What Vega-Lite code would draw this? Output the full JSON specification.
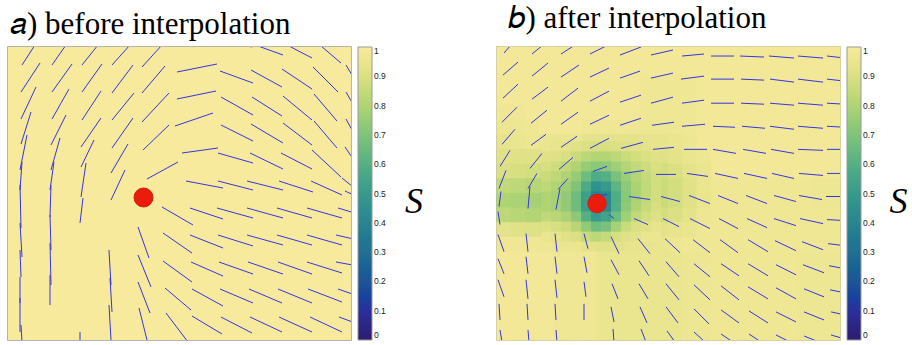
{
"$schema": "https://vega.github.io/schema/vega-lite/v6.json",
"padding": {"left": 7, "top": 2, "right": 0, "bottom": 0},
"config": {
  "view": {"stroke": "#9a9a9a", "strokeWidth": 1.5},
  "title": {"font": "Liberation Serif", "fontSize": 31, "fontWeight": "normal", "color": "#000", "anchor": "start"},
  "legend": {"gradientLength": 293, "gradientThickness": 14, "offset": 7, "labelFont": "Liberation Sans", "labelFontSize": 8.5, "labelColor": "#222", "labelOffset": 4, "labelOverlap": false, "gradientStrokeColor": "#999", "gradientStrokeWidth": 1}
},
"datasets": {
  "gridA": [{"i":0,"j":0,"s":1}],
  "labelS": [{"t":"S","x":0.07,"y":0.53}],
  "defA": [{"x":13.55,"y":15.05}],
  "defB": [{"x":10.0,"y":15.6}],
  "fieldA": [
{"x1":1.4,"y1":1.8,"x2":2.7,"y2":-0.2},{"x1":1.3,"y1":4.5,"x2":3.2,"y2":1.6},{"x1":1.3,"y1":7.2,"x2":2.8,"y2":4.0},{"x1":1.3,"y1":9.7,"x2":2.3,"y2":6.5},{"x1":1.2,"y1":12.3,"x2":1.9,"y2":8.8},{"x1":1.2,"y1":14.3,"x2":1.4,"y2":11.5},{"x1":1.2,"y1":13.8,"x2":1.3,"y2":18.1},{"x1":1.2,"y1":17.6,"x2":1.4,"y2":21.0},{"x1":1.2,"y1":20.3,"x2":1.3,"y2":23.0},{"x1":1.2,"y1":23.0,"x2":1.2,"y2":25.6},{"x1":1.2,"y1":25.1,"x2":1.2,"y2":28.5},{"x1":1.3,"y1":27.8,"x2":1.4,"y2":29.5},
{"x1":4.4,"y1":1.8,"x2":5.8,"y2":-0.2},{"x1":4.4,"y1":4.5,"x2":6.4,"y2":1.7},{"x1":4.4,"y1":7.2,"x2":6.1,"y2":4.2},{"x1":4.3,"y1":9.8,"x2":5.8,"y2":6.8},{"x1":4.3,"y1":12.3,"x2":5.2,"y2":9.1},{"x1":4.2,"y1":14.3,"x2":4.6,"y2":11.5},{"x1":4.3,"y1":13.8,"x2":4.2,"y2":17.0},{"x1":4.2,"y1":16.8,"x2":4.3,"y2":20.3},{"x1":4.2,"y1":19.6,"x2":4.3,"y2":23.8},{"x1":4.2,"y1":22.8,"x2":4.2,"y2":25.8},
{"x1":7.4,"y1":1.8,"x2":9.0,"y2":-0.2},{"x1":7.4,"y1":4.5,"x2":9.4,"y2":1.7},{"x1":7.4,"y1":7.3,"x2":9.3,"y2":4.4},{"x1":7.3,"y1":10.0,"x2":9.3,"y2":7.1},{"x1":7.3,"y1":12.0,"x2":8.6,"y2":9.3},{"x1":7.3,"y1":15.0,"x2":7.8,"y2":11.6},{"x1":7.2,"y1":17.6,"x2":7.5,"y2":15.1},{"x1":7.2,"y1":28.5,"x2":7.2,"y2":29.5},
{"x1":10.4,"y1":1.8,"x2":12.2,"y2":-0.2},{"x1":10.4,"y1":4.6,"x2":12.5,"y2":1.8},{"x1":10.4,"y1":7.3,"x2":12.6,"y2":4.6},{"x1":10.4,"y1":10.1,"x2":12.5,"y2":7.1},{"x1":10.3,"y1":12.6,"x2":12.0,"y2":9.7},{"x1":10.3,"y1":15.3,"x2":11.7,"y2":12.3},{"x1":10.1,"y1":20.3,"x2":10.3,"y2":23.8},{"x1":10.2,"y1":23.1,"x2":10.4,"y2":26.5},{"x1":10.1,"y1":25.8,"x2":10.3,"y2":29.3},
{"x1":13.4,"y1":2.0,"x2":15.4,"y2":-0.2},{"x1":13.4,"y1":4.6,"x2":15.7,"y2":1.9},{"x1":13.4,"y1":7.5,"x2":16.1,"y2":4.6},{"x1":13.5,"y1":10.3,"x2":16.1,"y2":7.8},{"x1":13.9,"y1":13.2,"x2":17.0,"y2":11.5},{"x1":13.0,"y1":18.0,"x2":14.1,"y2":21.1},{"x1":13.0,"y1":20.8,"x2":14.3,"y2":24.0},{"x1":13.0,"y1":23.5,"x2":14.2,"y2":26.6},{"x1":13.1,"y1":26.1,"x2":13.9,"y2":29.3},
{"x1":23.2,"y1":-0.3,"x2":24.4,"y2":0.0},{"x1":25.0,"y1":-0.1,"x2":27.5,"y2":0.8},{"x1":28.1,"y1":-0.1,"x2":30.4,"y2":1.1},{"x1":31.3,"y1":-0.1,"x2":33.3,"y2":1.6},{"x1":33.8,"y1":1.8,"x2":35.0,"y2":3.8},
{"x1":16.9,"y1":2.5,"x2":20.9,"y2":1.7},{"x1":21.2,"y1":2.4,"x2":24.5,"y2":3.6},{"x1":24.3,"y1":2.3,"x2":27.4,"y2":4.0},{"x1":27.4,"y1":2.2,"x2":30.4,"y2":4.2},{"x1":30.5,"y1":2.0,"x2":33.0,"y2":4.5},{"x1":33.8,"y1":4.5,"x2":35.0,"y2":6.6},
{"x1":16.9,"y1":5.2,"x2":20.8,"y2":4.4},{"x1":21.3,"y1":5.0,"x2":24.5,"y2":6.8},{"x1":24.4,"y1":5.0,"x2":27.4,"y2":6.9},{"x1":27.5,"y1":4.9,"x2":30.4,"y2":7.3},{"x1":30.6,"y1":4.7,"x2":32.9,"y2":7.4},{"x1":33.8,"y1":7.2,"x2":35.0,"y2":9.4},
{"x1":16.7,"y1":7.9,"x2":20.5,"y2":6.6},{"x1":21.3,"y1":7.8,"x2":24.5,"y2":9.4},{"x1":24.3,"y1":7.7,"x2":27.5,"y2":9.6},{"x1":27.5,"y1":7.6,"x2":30.4,"y2":9.8},{"x1":30.6,"y1":7.4,"x2":32.9,"y2":10.1},{"x1":33.7,"y1":10.0,"x2":35.0,"y2":11.9},
{"x1":17.4,"y1":10.6,"x2":21.0,"y2":10.1},{"x1":21.0,"y1":10.6,"x2":24.5,"y2":11.6},{"x1":24.2,"y1":10.6,"x2":27.5,"y2":12.2},{"x1":27.3,"y1":10.6,"x2":30.4,"y2":12.2},{"x1":30.4,"y1":10.3,"x2":33.3,"y2":13.0},{"x1":33.4,"y1":13.1,"x2":35.0,"y2":14.4},
{"x1":17.8,"y1":13.4,"x2":21.5,"y2":14.1},{"x1":21.0,"y1":13.4,"x2":24.5,"y2":14.3},{"x1":23.9,"y1":13.4,"x2":27.5,"y2":14.3},{"x1":27.1,"y1":13.4,"x2":30.5,"y2":14.5},{"x1":30.3,"y1":13.4,"x2":33.4,"y2":14.8},{"x1":33.7,"y1":14.4,"x2":35.0,"y2":15.0},
{"x1":15.4,"y1":16.0,"x2":18.5,"y2":17.8},{"x1":18.2,"y1":16.1,"x2":21.5,"y2":17.2},{"x1":20.9,"y1":16.1,"x2":24.5,"y2":17.1},{"x1":23.9,"y1":16.1,"x2":27.5,"y2":17.1},{"x1":26.9,"y1":16.1,"x2":30.4,"y2":17.1},{"x1":29.9,"y1":16.1,"x2":33.4,"y2":17.1},{"x1":33.0,"y1":16.1,"x2":35.0,"y2":16.7},
{"x1":15.5,"y1":18.6,"x2":18.4,"y2":20.6},{"x1":18.2,"y1":18.8,"x2":21.5,"y2":20.1},{"x1":21.0,"y1":18.8,"x2":24.5,"y2":19.9},{"x1":23.9,"y1":18.8,"x2":27.5,"y2":19.8},{"x1":26.9,"y1":18.8,"x2":30.4,"y2":19.8},{"x1":29.9,"y1":18.8,"x2":33.4,"y2":19.8},{"x1":32.8,"y1":18.8,"x2":35.0,"y2":19.3},
{"x1":15.5,"y1":21.4,"x2":18.4,"y2":23.5},{"x1":18.3,"y1":21.5,"x2":21.5,"y2":22.9},{"x1":21.1,"y1":21.5,"x2":24.5,"y2":22.7},{"x1":24.0,"y1":21.5,"x2":27.5,"y2":22.7},{"x1":27.0,"y1":21.5,"x2":30.4,"y2":22.7},{"x1":29.9,"y1":21.5,"x2":33.4,"y2":22.6},{"x1":32.8,"y1":21.5,"x2":35.0,"y2":21.9},
{"x1":15.7,"y1":24.1,"x2":18.3,"y2":26.3},{"x1":18.4,"y1":24.2,"x2":21.5,"y2":25.9},{"x1":21.2,"y1":24.2,"x2":24.5,"y2":25.6},{"x1":24.1,"y1":24.2,"x2":27.4,"y2":25.6},{"x1":27.0,"y1":24.2,"x2":30.4,"y2":25.6},{"x1":30.0,"y1":24.2,"x2":33.4,"y2":25.5},{"x1":33.0,"y1":24.2,"x2":35.0,"y2":24.9},
{"x1":15.8,"y1":26.6,"x2":18.0,"y2":29.5},{"x1":18.4,"y1":26.9,"x2":21.4,"y2":28.7},{"x1":21.3,"y1":27.0,"x2":24.4,"y2":28.6},{"x1":24.2,"y1":27.0,"x2":27.4,"y2":28.5},{"x1":27.1,"y1":27.0,"x2":30.4,"y2":28.5},{"x1":30.2,"y1":27.0,"x2":33.4,"y2":28.5},{"x1":33.1,"y1":27.0,"x2":35.0,"y2":27.7}
  ],
  "fieldB": [
{"x1":0.7,"y1":0.6,"x2":1.4,"y2":-0.2},{"x1":3.5,"y1":0.7,"x2":4.6,"y2":-0.2},{"x1":6.4,"y1":0.7,"x2":7.8,"y2":-0.2},{"x1":9.3,"y1":0.7,"x2":11.1,"y2":-0.2},{"x1":12.3,"y1":0.8,"x2":14.4,"y2":0.0},{"x1":15.4,"y1":0.8,"x2":17.6,"y2":0.3},{"x1":18.5,"y1":0.9,"x2":20.7,"y2":0.7},{"x1":21.4,"y1":0.9,"x2":23.7,"y2":0.9},{"x1":24.3,"y1":0.9,"x2":26.7,"y2":1.0},{"x1":27.2,"y1":0.9,"x2":29.7,"y2":1.1},{"x1":30.1,"y1":0.9,"x2":32.6,"y2":1.1},{"x1":33.0,"y1":0.9,"x2":34.8,"y2":1.1},
{"x1":0.6,"y1":2.8,"x2":2.1,"y2":1.5},{"x1":3.5,"y1":2.9,"x2":5.1,"y2":1.6},{"x1":6.4,"y1":3.0,"x2":8.2,"y2":1.8},{"x1":9.3,"y1":3.0,"x2":11.2,"y2":2.1},{"x1":12.3,"y1":3.1,"x2":14.3,"y2":2.4},{"x1":15.4,"y1":3.1,"x2":17.6,"y2":2.6},{"x1":18.4,"y1":3.2,"x2":20.7,"y2":2.9},{"x1":21.4,"y1":3.2,"x2":23.7,"y2":3.2},{"x1":24.4,"y1":3.2,"x2":26.7,"y2":3.3},{"x1":27.3,"y1":3.2,"x2":29.7,"y2":3.5},{"x1":30.1,"y1":3.2,"x2":32.6,"y2":3.5},{"x1":33.0,"y1":3.2,"x2":34.8,"y2":3.4},
{"x1":0.6,"y1":5.1,"x2":2.1,"y2":3.7},{"x1":3.5,"y1":5.2,"x2":5.1,"y2":4.0},{"x1":6.4,"y1":5.4,"x2":8.1,"y2":4.1},{"x1":9.3,"y1":5.4,"x2":11.2,"y2":4.4},{"x1":12.3,"y1":5.5,"x2":14.4,"y2":4.8},{"x1":15.4,"y1":5.6,"x2":17.6,"y2":5.0},{"x1":18.5,"y1":5.6,"x2":20.7,"y2":5.3},{"x1":21.4,"y1":5.6,"x2":23.7,"y2":5.6},{"x1":24.4,"y1":5.6,"x2":26.7,"y2":5.7},{"x1":27.3,"y1":5.6,"x2":29.7,"y2":5.8},{"x1":30.1,"y1":5.6,"x2":32.6,"y2":5.8},{"x1":33.0,"y1":5.6,"x2":34.8,"y2":5.7},
{"x1":0.5,"y1":7.5,"x2":2.0,"y2":6.0},{"x1":3.4,"y1":7.6,"x2":5.0,"y2":6.3},{"x1":6.4,"y1":7.7,"x2":8.1,"y2":6.5},{"x1":9.3,"y1":7.7,"x2":11.2,"y2":6.8},{"x1":12.3,"y1":7.8,"x2":14.4,"y2":7.1},{"x1":15.5,"y1":7.8,"x2":17.7,"y2":7.5},{"x1":18.5,"y1":7.9,"x2":20.8,"y2":7.7},{"x1":21.6,"y1":7.9,"x2":23.8,"y2":8.0},{"x1":24.5,"y1":7.9,"x2":26.8,"y2":8.1},{"x1":27.3,"y1":7.9,"x2":29.7,"y2":8.2},{"x1":30.1,"y1":7.9,"x2":32.6,"y2":8.1},{"x1":33.0,"y1":7.9,"x2":34.8,"y2":8.0},
{"x1":0.5,"y1":9.7,"x2":1.8,"y2":8.2},{"x1":3.4,"y1":9.8,"x2":4.9,"y2":8.7},{"x1":6.4,"y1":10.0,"x2":8.0,"y2":8.9},{"x1":9.3,"y1":10.1,"x2":11.2,"y2":9.1},{"x1":12.4,"y1":10.1,"x2":14.6,"y2":9.5},{"x1":15.6,"y1":10.2,"x2":17.7,"y2":10.0},{"x1":18.7,"y1":10.2,"x2":21.0,"y2":10.2},{"x1":21.6,"y1":10.2,"x2":23.9,"y2":10.6},{"x1":24.6,"y1":10.2,"x2":26.9,"y2":10.6},{"x1":27.4,"y1":10.2,"x2":29.7,"y2":10.6},{"x1":30.1,"y1":10.2,"x2":32.6,"y2":10.3},{"x1":33.0,"y1":10.2,"x2":34.8,"y2":10.2},
{"x1":0.3,"y1":11.9,"x2":1.3,"y2":10.3},{"x1":3.3,"y1":12.1,"x2":4.5,"y2":10.6},{"x1":6.2,"y1":12.2,"x2":7.6,"y2":11.0},{"x1":9.6,"y1":12.4,"x2":11.0,"y2":11.9},{"x1":12.7,"y1":12.6,"x2":14.7,"y2":12.3},{"x1":15.9,"y1":12.7,"x2":17.9,"y2":12.7},{"x1":19.0,"y1":12.6,"x2":21.1,"y2":12.9},{"x1":21.8,"y1":12.6,"x2":24.1,"y2":13.1},{"x1":24.7,"y1":12.6,"x2":27.0,"y2":13.1},{"x1":27.5,"y1":12.6,"x2":29.7,"y2":13.1},{"x1":30.2,"y1":12.6,"x2":32.6,"y2":12.8},{"x1":33.0,"y1":12.6,"x2":34.8,"y2":12.6},
{"x1":0.2,"y1":14.1,"x2":0.9,"y2":12.3},{"x1":3.1,"y1":14.1,"x2":4.0,"y2":12.6},{"x1":6.1,"y1":14.2,"x2":7.1,"y2":13.1},{"x1":9.3,"y1":14.9,"x2":11.0,"y2":14.7},{"x1":13.2,"y1":14.9,"x2":15.3,"y2":15.2},{"x1":16.4,"y1":14.9,"x2":18.3,"y2":15.4},{"x1":19.2,"y1":14.8,"x2":21.3,"y2":15.6},{"x1":22.1,"y1":14.8,"x2":24.1,"y2":15.6},{"x1":24.9,"y1":14.8,"x2":27.0,"y2":15.6},{"x1":27.7,"y1":14.8,"x2":29.9,"y2":15.4},{"x1":30.2,"y1":14.8,"x2":32.5,"y2":15.2},{"x1":32.9,"y1":14.9,"x2":34.8,"y2":14.9},
{"x1":0.2,"y1":15.9,"x2":0.4,"y2":14.4},{"x1":3.1,"y1":16.1,"x2":3.3,"y2":13.9},{"x1":5.9,"y1":16.2,"x2":6.3,"y2":14.1},
{"x1":0.1,"y1":16.4,"x2":0.3,"y2":17.7},{"x1":11.2,"y1":16.7,"x2":11.7,"y2":17.1},{"x1":13.7,"y1":17.1,"x2":15.1,"y2":17.7},{"x1":16.6,"y1":17.1,"x2":18.2,"y2":17.9},{"x1":19.3,"y1":17.1,"x2":21.3,"y2":18.1},{"x1":22.2,"y1":17.1,"x2":24.1,"y2":18.1},{"x1":25.0,"y1":17.1,"x2":27.0,"y2":18.0},{"x1":27.7,"y1":17.1,"x2":29.9,"y2":17.8},{"x1":30.3,"y1":17.1,"x2":32.6,"y2":17.6},{"x1":33.0,"y1":17.2,"x2":34.8,"y2":17.3},
{"x1":0.1,"y1":18.7,"x2":0.7,"y2":20.4},{"x1":2.9,"y1":18.6,"x2":3.1,"y2":20.4},{"x1":5.8,"y1":18.6,"x2":6.0,"y2":20.4},{"x1":8.7,"y1":18.6,"x2":9.1,"y2":20.1},{"x1":11.4,"y1":18.9,"x2":12.2,"y2":20.6},{"x1":14.1,"y1":19.1,"x2":15.3,"y2":20.6},{"x1":16.8,"y1":19.1,"x2":18.3,"y2":20.5},{"x1":19.6,"y1":19.2,"x2":21.3,"y2":20.5},{"x1":22.3,"y1":19.2,"x2":24.1,"y2":20.5},{"x1":25.1,"y1":19.2,"x2":27.1,"y2":20.4},{"x1":27.8,"y1":19.3,"x2":29.9,"y2":20.3},{"x1":30.5,"y1":19.4,"x2":32.6,"y2":20.2},{"x1":33.1,"y1":19.6,"x2":34.8,"y2":19.8},
{"x1":0.1,"y1":21.1,"x2":0.7,"y2":22.6},{"x1":2.9,"y1":20.9,"x2":3.1,"y2":22.6},{"x1":5.8,"y1":20.9,"x2":6.0,"y2":22.6},{"x1":8.7,"y1":20.9,"x2":9.0,"y2":22.5},{"x1":11.4,"y1":21.2,"x2":12.2,"y2":22.7},{"x1":14.2,"y1":21.3,"x2":15.2,"y2":22.8},{"x1":16.9,"y1":21.4,"x2":18.2,"y2":22.9},{"x1":19.7,"y1":21.6,"x2":21.3,"y2":22.9},{"x1":22.4,"y1":21.6,"x2":24.2,"y2":22.8},{"x1":25.1,"y1":21.6,"x2":27.1,"y2":22.8},{"x1":27.9,"y1":21.7,"x2":29.9,"y2":22.7},{"x1":30.6,"y1":21.7,"x2":32.7,"y2":22.5},{"x1":33.2,"y1":21.8,"x2":34.8,"y2":22.1},
{"x1":0.1,"y1":23.2,"x2":0.7,"y2":24.9},{"x1":2.9,"y1":23.2,"x2":3.1,"y2":25.1},{"x1":5.8,"y1":23.2,"x2":6.0,"y2":25.0},{"x1":8.7,"y1":23.4,"x2":8.9,"y2":24.9},{"x1":11.5,"y1":23.6,"x2":12.1,"y2":25.1},{"x1":14.2,"y1":23.6,"x2":15.1,"y2":25.1},{"x1":16.9,"y1":23.6,"x2":18.2,"y2":25.2},{"x1":19.7,"y1":23.7,"x2":21.3,"y2":25.2},{"x1":22.4,"y1":23.8,"x2":24.2,"y2":25.2},{"x1":25.1,"y1":23.9,"x2":27.1,"y2":25.1},{"x1":27.9,"y1":24.0,"x2":29.9,"y2":25.1},{"x1":30.7,"y1":24.1,"x2":32.7,"y2":24.9},{"x1":33.3,"y1":24.2,"x2":34.8,"y2":24.5},
{"x1":0.2,"y1":25.6,"x2":0.3,"y2":27.2},{"x1":3.0,"y1":25.6,"x2":3.1,"y2":27.2},{"x1":5.8,"y1":25.6,"x2":5.9,"y2":27.2},{"x1":8.7,"y1":25.6,"x2":8.7,"y2":27.2},{"x1":11.4,"y1":25.9,"x2":11.7,"y2":27.4},{"x1":14.3,"y1":25.9,"x2":15.0,"y2":27.5},{"x1":16.9,"y1":25.9,"x2":18.1,"y2":27.5},{"x1":19.7,"y1":26.1,"x2":21.2,"y2":27.6},{"x1":22.4,"y1":26.2,"x2":24.2,"y2":27.5},{"x1":25.2,"y1":26.3,"x2":27.1,"y2":27.5},{"x1":27.9,"y1":26.4,"x2":29.9,"y2":27.4},{"x1":30.7,"y1":26.4,"x2":32.7,"y2":27.2},{"x1":33.4,"y1":26.4,"x2":34.8,"y2":26.7},
{"x1":0.3,"y1":28.2,"x2":0.5,"y2":29.4},{"x1":3.1,"y1":28.2,"x2":3.2,"y2":29.4},{"x1":5.9,"y1":28.2,"x2":6.0,"y2":29.4},{"x1":11.6,"y1":28.1,"x2":11.7,"y2":29.4},{"x1":14.4,"y1":28.1,"x2":14.9,"y2":29.4},{"x1":17.0,"y1":28.3,"x2":17.8,"y2":29.4},{"x1":19.7,"y1":28.4,"x2":20.8,"y2":29.4},{"x1":22.4,"y1":28.6,"x2":23.6,"y2":29.4},{"x1":25.2,"y1":28.6,"x2":26.4,"y2":29.4},{"x1":27.9,"y1":28.7,"x2":29.3,"y2":29.4},{"x1":30.7,"y1":28.8,"x2":32.2,"y2":29.4},{"x1":33.4,"y1":28.7,"x2":34.8,"y2":29.1}
  ],
  "patchB": [
{"x0":4.4,"x1":5.5,"y0":9.4,"y1":10.5,"s":0.95},{"x0":5.4,"x1":6.5,"y0":9.4,"y1":10.5,"s":0.94},{"x0":6.4,"x1":7.5,"y0":9.4,"y1":10.5,"s":0.93},{"x0":7.4,"x1":8.5,"y0":9.4,"y1":10.5,"s":0.92},{"x0":8.4,"x1":9.5,"y0":9.4,"y1":10.5,"s":0.9},{"x0":9.4,"x1":10.5,"y0":9.4,"y1":10.5,"s":0.89},{"x0":10.4,"x1":11.5,"y0":9.4,"y1":10.5,"s":0.89},{"x0":11.4,"x1":12.5,"y0":9.4,"y1":10.5,"s":0.9},{"x0":12.4,"x1":13.5,"y0":9.4,"y1":10.5,"s":0.91},{"x0":13.4,"x1":14.5,"y0":9.4,"y1":10.5,"s":0.92},{"x0":14.4,"x1":15.5,"y0":9.4,"y1":10.5,"s":0.93},{"x0":15.4,"x1":16.4,"y0":9.4,"y1":10.5,"s":0.94},
{"x0":4.4,"x1":5.5,"y0":10.4,"y1":11.5,"s":0.92},{"x0":5.4,"x1":6.5,"y0":10.4,"y1":11.5,"s":0.91},{"x0":6.4,"x1":7.5,"y0":10.4,"y1":11.5,"s":0.89},{"x0":7.4,"x1":8.5,"y0":10.4,"y1":11.5,"s":0.86},{"x0":8.4,"x1":9.5,"y0":10.4,"y1":11.5,"s":0.83},{"x0":9.4,"x1":10.5,"y0":10.4,"y1":11.5,"s":0.81},{"x0":10.4,"x1":11.5,"y0":10.4,"y1":11.5,"s":0.81},{"x0":11.4,"x1":12.5,"y0":10.4,"y1":11.5,"s":0.83},{"x0":12.4,"x1":13.5,"y0":10.4,"y1":11.5,"s":0.86},{"x0":13.4,"x1":14.5,"y0":10.4,"y1":11.5,"s":0.88},{"x0":14.4,"x1":15.5,"y0":10.4,"y1":11.5,"s":0.9},{"x0":15.4,"x1":16.4,"y0":10.4,"y1":11.5,"s":0.92},
{"x0":4.4,"x1":5.5,"y0":11.4,"y1":12.5,"s":0.89},{"x0":5.4,"x1":6.5,"y0":11.4,"y1":12.5,"s":0.87},{"x0":6.4,"x1":7.5,"y0":11.4,"y1":12.5,"s":0.84},{"x0":7.4,"x1":8.5,"y0":11.4,"y1":12.5,"s":0.8},{"x0":8.4,"x1":9.5,"y0":11.4,"y1":12.5,"s":0.75},{"x0":9.4,"x1":10.5,"y0":11.4,"y1":12.5,"s":0.72},{"x0":10.4,"x1":11.5,"y0":11.4,"y1":12.5,"s":0.73},{"x0":11.4,"x1":12.5,"y0":11.4,"y1":12.5,"s":0.77},{"x0":12.4,"x1":13.5,"y0":11.4,"y1":12.5,"s":0.81},{"x0":13.4,"x1":14.5,"y0":11.4,"y1":12.5,"s":0.84},{"x0":14.4,"x1":15.5,"y0":11.4,"y1":12.5,"s":0.87},{"x0":15.4,"x1":16.4,"y0":11.4,"y1":12.5,"s":0.9},
{"x0":4.4,"x1":5.5,"y0":12.4,"y1":13.5,"s":0.86},{"x0":5.4,"x1":6.5,"y0":12.4,"y1":13.5,"s":0.83},{"x0":6.4,"x1":7.5,"y0":12.4,"y1":13.5,"s":0.8},{"x0":7.4,"x1":8.5,"y0":12.4,"y1":13.5,"s":0.75},{"x0":8.4,"x1":9.5,"y0":12.4,"y1":13.5,"s":0.66},{"x0":9.4,"x1":10.5,"y0":12.4,"y1":13.5,"s":0.58},{"x0":10.4,"x1":11.5,"y0":12.4,"y1":13.5,"s":0.6},{"x0":11.4,"x1":12.5,"y0":12.4,"y1":13.5,"s":0.69},{"x0":12.4,"x1":13.5,"y0":12.4,"y1":13.5,"s":0.76},{"x0":13.4,"x1":14.5,"y0":12.4,"y1":13.5,"s":0.81},{"x0":14.4,"x1":15.5,"y0":12.4,"y1":13.5,"s":0.85},{"x0":15.4,"x1":16.4,"y0":12.4,"y1":13.5,"s":0.88},
{"x0":4.4,"x1":5.5,"y0":13.4,"y1":14.5,"s":0.83},{"x0":5.4,"x1":6.5,"y0":13.4,"y1":14.5,"s":0.8},{"x0":6.4,"x1":7.5,"y0":13.4,"y1":14.5,"s":0.76},{"x0":7.4,"x1":8.5,"y0":13.4,"y1":14.5,"s":0.7},{"x0":8.4,"x1":9.5,"y0":13.4,"y1":14.5,"s":0.57},{"x0":9.4,"x1":10.5,"y0":13.4,"y1":14.5,"s":0.46},{"x0":10.4,"x1":11.5,"y0":13.4,"y1":14.5,"s":0.5},{"x0":11.4,"x1":12.5,"y0":13.4,"y1":14.5,"s":0.62},{"x0":12.4,"x1":13.5,"y0":13.4,"y1":14.5,"s":0.73},{"x0":13.4,"x1":14.5,"y0":13.4,"y1":14.5,"s":0.79},{"x0":14.4,"x1":15.5,"y0":13.4,"y1":14.5,"s":0.84},{"x0":15.4,"x1":16.4,"y0":13.4,"y1":14.5,"s":0.88},
{"x0":4.4,"x1":5.5,"y0":14.4,"y1":15.5,"s":0.8},{"x0":5.4,"x1":6.5,"y0":14.4,"y1":15.5,"s":0.78},{"x0":6.4,"x1":7.5,"y0":14.4,"y1":15.5,"s":0.74},{"x0":7.4,"x1":8.5,"y0":14.4,"y1":15.5,"s":0.66},{"x0":8.4,"x1":9.5,"y0":14.4,"y1":15.5,"s":0.52},{"x0":9.4,"x1":10.5,"y0":14.4,"y1":15.5,"s":0.38},{"x0":10.4,"x1":11.5,"y0":14.4,"y1":15.5,"s":0.42},{"x0":11.4,"x1":12.5,"y0":14.4,"y1":15.5,"s":0.58},{"x0":12.4,"x1":13.5,"y0":14.4,"y1":15.5,"s":0.72},{"x0":13.4,"x1":14.5,"y0":14.4,"y1":15.5,"s":0.79},{"x0":14.4,"x1":15.5,"y0":14.4,"y1":15.5,"s":0.84},{"x0":15.4,"x1":16.4,"y0":14.4,"y1":15.5,"s":0.88},
{"x0":4.4,"x1":5.5,"y0":15.4,"y1":16.5,"s":0.8},{"x0":5.4,"x1":6.5,"y0":15.4,"y1":16.5,"s":0.78},{"x0":6.4,"x1":7.5,"y0":15.4,"y1":16.5,"s":0.74},{"x0":7.4,"x1":8.5,"y0":15.4,"y1":16.5,"s":0.66},{"x0":8.4,"x1":9.5,"y0":15.4,"y1":16.5,"s":0.52},{"x0":9.4,"x1":10.5,"y0":15.4,"y1":16.5,"s":0.38},{"x0":10.4,"x1":11.5,"y0":15.4,"y1":16.5,"s":0.42},{"x0":11.4,"x1":12.5,"y0":15.4,"y1":16.5,"s":0.59},{"x0":12.4,"x1":13.5,"y0":15.4,"y1":16.5,"s":0.73},{"x0":13.4,"x1":14.5,"y0":15.4,"y1":16.5,"s":0.8},{"x0":14.4,"x1":15.5,"y0":15.4,"y1":16.5,"s":0.85},{"x0":15.4,"x1":16.4,"y0":15.4,"y1":16.5,"s":0.89},
{"x0":4.4,"x1":5.5,"y0":16.4,"y1":17.5,"s":0.84},{"x0":5.4,"x1":6.5,"y0":16.4,"y1":17.5,"s":0.82},{"x0":6.4,"x1":7.5,"y0":16.4,"y1":17.5,"s":0.79},{"x0":7.4,"x1":8.5,"y0":16.4,"y1":17.5,"s":0.73},{"x0":8.4,"x1":9.5,"y0":16.4,"y1":17.5,"s":0.6},{"x0":9.4,"x1":10.5,"y0":16.4,"y1":17.5,"s":0.5},{"x0":10.4,"x1":11.5,"y0":16.4,"y1":17.5,"s":0.54},{"x0":11.4,"x1":12.5,"y0":16.4,"y1":17.5,"s":0.66},{"x0":12.4,"x1":13.5,"y0":16.4,"y1":17.5,"s":0.77},{"x0":13.4,"x1":14.5,"y0":16.4,"y1":17.5,"s":0.84},{"x0":14.4,"x1":15.5,"y0":16.4,"y1":17.5,"s":0.88},{"x0":15.4,"x1":16.4,"y0":16.4,"y1":17.5,"s":0.91},
{"x0":4.4,"x1":5.5,"y0":17.4,"y1":18.5,"s":0.91},{"x0":5.4,"x1":6.5,"y0":17.4,"y1":18.5,"s":0.89},{"x0":6.4,"x1":7.5,"y0":17.4,"y1":18.5,"s":0.87},{"x0":7.4,"x1":8.5,"y0":17.4,"y1":18.5,"s":0.82},{"x0":8.4,"x1":9.5,"y0":17.4,"y1":18.5,"s":0.74},{"x0":9.4,"x1":10.5,"y0":17.4,"y1":18.5,"s":0.66},{"x0":10.4,"x1":11.5,"y0":17.4,"y1":18.5,"s":0.69},{"x0":11.4,"x1":12.5,"y0":17.4,"y1":18.5,"s":0.78},{"x0":12.4,"x1":13.5,"y0":17.4,"y1":18.5,"s":0.86},{"x0":13.4,"x1":14.5,"y0":17.4,"y1":18.5,"s":0.9},{"x0":14.4,"x1":15.5,"y0":17.4,"y1":18.5,"s":0.92},{"x0":15.4,"x1":16.4,"y0":17.4,"y1":18.5,"s":0.94},
{"x0":4.4,"x1":5.5,"y0":18.4,"y1":19.4,"s":0.95},{"x0":5.4,"x1":6.5,"y0":18.4,"y1":19.4,"s":0.94},{"x0":6.4,"x1":7.5,"y0":18.4,"y1":19.4,"s":0.92},{"x0":7.4,"x1":8.5,"y0":18.4,"y1":19.4,"s":0.9},{"x0":8.4,"x1":9.5,"y0":18.4,"y1":19.4,"s":0.86},{"x0":9.4,"x1":10.5,"y0":18.4,"y1":19.4,"s":0.83},{"x0":10.4,"x1":11.5,"y0":18.4,"y1":19.4,"s":0.85},{"x0":11.4,"x1":12.5,"y0":18.4,"y1":19.4,"s":0.89},{"x0":12.4,"x1":13.5,"y0":18.4,"y1":19.4,"s":0.92},{"x0":13.4,"x1":14.5,"y0":18.4,"y1":19.4,"s":0.93},{"x0":14.4,"x1":15.5,"y0":18.4,"y1":19.4,"s":0.95},{"x0":15.4,"x1":16.4,"y0":18.4,"y1":19.4,"s":0.96}
  ],
  "gridB": [
{"i":0,"j":0,"s":0.98},{"i":1,"j":0,"s":0.98},{"i":2,"j":0,"s":0.98},{"i":3,"j":0,"s":0.98},{"i":4,"j":0,"s":0.98},{"i":5,"j":0,"s":0.98},{"i":6,"j":0,"s":0.98},{"i":7,"j":0,"s":0.98},{"i":8,"j":0,"s":0.98},{"i":9,"j":0,"s":0.98},{"i":10,"j":0,"s":0.98},{"i":11,"j":0,"s":0.98},{"i":12,"j":0,"s":0.98},{"i":13,"j":0,"s":0.98},{"i":14,"j":0,"s":0.98},{"i":15,"j":0,"s":0.98},{"i":16,"j":0,"s":0.98},{"i":17,"j":0,"s":0.98},{"i":18,"j":0,"s":0.98},{"i":19,"j":0,"s":0.98},{"i":20,"j":0,"s":0.98},{"i":21,"j":0,"s":0.98},{"i":22,"j":0,"s":0.98},{"i":23,"j":0,"s":0.98},
{"i":0,"j":1,"s":0.98},{"i":1,"j":1,"s":0.98},{"i":2,"j":1,"s":0.98},{"i":3,"j":1,"s":0.98},{"i":4,"j":1,"s":0.98},{"i":5,"j":1,"s":0.98},{"i":6,"j":1,"s":0.98},{"i":7,"j":1,"s":0.98},{"i":8,"j":1,"s":0.98},{"i":9,"j":1,"s":0.98},{"i":10,"j":1,"s":0.98},{"i":11,"j":1,"s":0.98},{"i":12,"j":1,"s":0.98},{"i":13,"j":1,"s":0.98},{"i":14,"j":1,"s":0.98},{"i":15,"j":1,"s":0.98},{"i":16,"j":1,"s":0.98},{"i":17,"j":1,"s":0.98},{"i":18,"j":1,"s":0.98},{"i":19,"j":1,"s":0.98},{"i":20,"j":1,"s":0.98},{"i":21,"j":1,"s":0.98},{"i":22,"j":1,"s":0.98},{"i":23,"j":1,"s":0.98},
{"i":0,"j":2,"s":0.98},{"i":1,"j":2,"s":0.98},{"i":2,"j":2,"s":0.98},{"i":3,"j":2,"s":0.98},{"i":4,"j":2,"s":0.98},{"i":5,"j":2,"s":0.98},{"i":6,"j":2,"s":0.98},{"i":7,"j":2,"s":0.98},{"i":8,"j":2,"s":0.98},{"i":9,"j":2,"s":0.98},{"i":10,"j":2,"s":0.97},{"i":11,"j":2,"s":0.97},{"i":12,"j":2,"s":0.97},{"i":13,"j":2,"s":0.97},{"i":14,"j":2,"s":0.98},{"i":15,"j":2,"s":0.98},{"i":16,"j":2,"s":0.98},{"i":17,"j":2,"s":0.98},{"i":18,"j":2,"s":0.98},{"i":19,"j":2,"s":0.98},{"i":20,"j":2,"s":0.98},{"i":21,"j":2,"s":0.98},{"i":22,"j":2,"s":0.98},{"i":23,"j":2,"s":0.98},
{"i":0,"j":3,"s":0.98},{"i":1,"j":3,"s":0.98},{"i":2,"j":3,"s":0.98},{"i":3,"j":3,"s":0.98},{"i":4,"j":3,"s":0.98},{"i":5,"j":3,"s":0.98},{"i":6,"j":3,"s":0.98},{"i":7,"j":3,"s":0.98},{"i":8,"j":3,"s":0.98},{"i":9,"j":3,"s":0.98},{"i":10,"j":3,"s":0.97},{"i":11,"j":3,"s":0.97},{"i":12,"j":3,"s":0.97},{"i":13,"j":3,"s":0.97},{"i":14,"j":3,"s":0.98},{"i":15,"j":3,"s":0.98},{"i":16,"j":3,"s":0.98},{"i":17,"j":3,"s":0.98},{"i":18,"j":3,"s":0.98},{"i":19,"j":3,"s":0.98},{"i":20,"j":3,"s":0.98},{"i":21,"j":3,"s":0.98},{"i":22,"j":3,"s":0.98},{"i":23,"j":3,"s":0.98},
{"i":0,"j":4,"s":0.97},{"i":1,"j":4,"s":0.97},{"i":2,"j":4,"s":0.98},{"i":3,"j":4,"s":0.98},{"i":4,"j":4,"s":0.98},{"i":5,"j":4,"s":0.98},{"i":6,"j":4,"s":0.98},{"i":7,"j":4,"s":0.98},{"i":8,"j":4,"s":0.98},{"i":9,"j":4,"s":0.98},{"i":10,"j":4,"s":0.97},{"i":11,"j":4,"s":0.97},{"i":12,"j":4,"s":0.97},{"i":13,"j":4,"s":0.97},{"i":14,"j":4,"s":0.98},{"i":15,"j":4,"s":0.98},{"i":16,"j":4,"s":0.98},{"i":17,"j":4,"s":0.98},{"i":18,"j":4,"s":0.98},{"i":19,"j":4,"s":0.98},{"i":20,"j":4,"s":0.98},{"i":21,"j":4,"s":0.98},{"i":22,"j":4,"s":0.98},{"i":23,"j":4,"s":0.98},
{"i":0,"j":5,"s":0.96},{"i":1,"j":5,"s":0.96},{"i":2,"j":5,"s":0.97},{"i":3,"j":5,"s":0.98},{"i":4,"j":5,"s":0.98},{"i":5,"j":5,"s":0.98},{"i":6,"j":5,"s":0.97},{"i":7,"j":5,"s":0.97},{"i":8,"j":5,"s":0.97},{"i":9,"j":5,"s":0.97},{"i":10,"j":5,"s":0.96},{"i":11,"j":5,"s":0.96},{"i":12,"j":5,"s":0.96},{"i":13,"j":5,"s":0.97},{"i":14,"j":5,"s":0.98},{"i":15,"j":5,"s":0.98},{"i":16,"j":5,"s":0.98},{"i":17,"j":5,"s":0.98},{"i":18,"j":5,"s":0.98},{"i":19,"j":5,"s":0.98},{"i":20,"j":5,"s":0.98},{"i":21,"j":5,"s":0.98},{"i":22,"j":5,"s":0.98},{"i":23,"j":5,"s":0.98},
{"i":0,"j":6,"s":0.94},{"i":1,"j":6,"s":0.95},{"i":2,"j":6,"s":0.96},{"i":3,"j":6,"s":0.95},{"i":4,"j":6,"s":0.95},{"i":5,"j":6,"s":0.95},{"i":6,"j":6,"s":0.93},{"i":7,"j":6,"s":0.93},{"i":8,"j":6,"s":0.93},{"i":9,"j":6,"s":0.93},{"i":10,"j":6,"s":0.94},{"i":11,"j":6,"s":0.94},{"i":12,"j":6,"s":0.95},{"i":13,"j":6,"s":0.96},{"i":14,"j":6,"s":0.98},{"i":15,"j":6,"s":0.98},{"i":16,"j":6,"s":0.98},{"i":17,"j":6,"s":0.98},{"i":18,"j":6,"s":0.98},{"i":19,"j":6,"s":0.98},{"i":20,"j":6,"s":0.98},{"i":21,"j":6,"s":0.98},{"i":22,"j":6,"s":0.98},{"i":23,"j":6,"s":0.98},
{"i":0,"j":7,"s":0.92},{"i":1,"j":7,"s":0.92},{"i":2,"j":7,"s":0.92},{"i":3,"j":7,"s":0.92},{"i":4,"j":7,"s":0.9},{"i":5,"j":7,"s":0.86},{"i":6,"j":7,"s":0.82},{"i":7,"j":7,"s":0.82},{"i":8,"j":7,"s":0.84},{"i":9,"j":7,"s":0.87},{"i":10,"j":7,"s":0.89},{"i":11,"j":7,"s":0.91},{"i":12,"j":7,"s":0.93},{"i":13,"j":7,"s":0.95},{"i":14,"j":7,"s":0.96},{"i":15,"j":7,"s":0.98},{"i":16,"j":7,"s":0.98},{"i":17,"j":7,"s":0.98},{"i":18,"j":7,"s":0.98},{"i":19,"j":7,"s":0.98},{"i":20,"j":7,"s":0.98},{"i":21,"j":7,"s":0.98},{"i":22,"j":7,"s":0.98},{"i":23,"j":7,"s":0.98},
{"i":0,"j":8,"s":0.9},{"i":1,"j":8,"s":0.89},{"i":2,"j":8,"s":0.88},{"i":3,"j":8,"s":0.87},{"i":4,"j":8,"s":0.82},{"i":5,"j":8,"s":0.74},{"i":6,"j":8,"s":0.65},{"i":7,"j":8,"s":0.6},{"i":8,"j":8,"s":0.7},{"i":9,"j":8,"s":0.78},{"i":10,"j":8,"s":0.84},{"i":11,"j":8,"s":0.88},{"i":12,"j":8,"s":0.9},{"i":13,"j":8,"s":0.93},{"i":14,"j":8,"s":0.95},{"i":15,"j":8,"s":0.98},{"i":16,"j":8,"s":0.98},{"i":17,"j":8,"s":0.98},{"i":18,"j":8,"s":0.98},{"i":19,"j":8,"s":0.98},{"i":20,"j":8,"s":0.98},{"i":21,"j":8,"s":0.98},{"i":22,"j":8,"s":0.98},{"i":23,"j":8,"s":0.98},
{"i":0,"j":9,"s":0.84},{"i":1,"j":9,"s":0.83},{"i":2,"j":9,"s":0.82},{"i":3,"j":9,"s":0.81},{"i":4,"j":9,"s":0.74},{"i":5,"j":9,"s":0.6},{"i":6,"j":9,"s":0.45},{"i":7,"j":9,"s":0.45},{"i":8,"j":9,"s":0.6},{"i":9,"j":9,"s":0.72},{"i":10,"j":9,"s":0.81},{"i":11,"j":9,"s":0.86},{"i":12,"j":9,"s":0.88},{"i":13,"j":9,"s":0.92},{"i":14,"j":9,"s":0.95},{"i":15,"j":9,"s":0.97},{"i":16,"j":9,"s":0.97},{"i":17,"j":9,"s":0.97},{"i":18,"j":9,"s":0.97},{"i":19,"j":9,"s":0.97},{"i":20,"j":9,"s":0.97},{"i":21,"j":9,"s":0.97},{"i":22,"j":9,"s":0.96},{"i":23,"j":9,"s":0.96},
{"i":0,"j":10,"s":0.8},{"i":1,"j":10,"s":0.79},{"i":2,"j":10,"s":0.78},{"i":3,"j":10,"s":0.77},{"i":4,"j":10,"s":0.7},{"i":5,"j":10,"s":0.55},{"i":6,"j":10,"s":0.4},{"i":7,"j":10,"s":0.4},{"i":8,"j":10,"s":0.55},{"i":9,"j":10,"s":0.7},{"i":10,"j":10,"s":0.8},{"i":11,"j":10,"s":0.86},{"i":12,"j":10,"s":0.88},{"i":13,"j":10,"s":0.92},{"i":14,"j":10,"s":0.95},{"i":15,"j":10,"s":0.97},{"i":16,"j":10,"s":0.97},{"i":17,"j":10,"s":0.97},{"i":18,"j":10,"s":0.97},{"i":19,"j":10,"s":0.97},{"i":20,"j":10,"s":0.97},{"i":21,"j":10,"s":0.97},{"i":22,"j":10,"s":0.96},{"i":23,"j":10,"s":0.96},
{"i":0,"j":11,"s":0.83},{"i":1,"j":11,"s":0.82},{"i":2,"j":11,"s":0.81},{"i":3,"j":11,"s":0.8},{"i":4,"j":11,"s":0.75},{"i":5,"j":11,"s":0.64},{"i":6,"j":11,"s":0.5},{"i":7,"j":11,"s":0.5},{"i":8,"j":11,"s":0.64},{"i":9,"j":11,"s":0.76},{"i":10,"j":11,"s":0.84},{"i":11,"j":11,"s":0.88},{"i":12,"j":11,"s":0.9},{"i":13,"j":11,"s":0.93},{"i":14,"j":11,"s":0.96},{"i":15,"j":11,"s":0.97},{"i":16,"j":11,"s":0.97},{"i":17,"j":11,"s":0.97},{"i":18,"j":11,"s":0.97},{"i":19,"j":11,"s":0.97},{"i":20,"j":11,"s":0.97},{"i":21,"j":11,"s":0.97},{"i":22,"j":11,"s":0.97},{"i":23,"j":11,"s":0.97},
{"i":0,"j":12,"s":0.93},{"i":1,"j":12,"s":0.92},{"i":2,"j":12,"s":0.91},{"i":3,"j":12,"s":0.9},{"i":4,"j":12,"s":0.87},{"i":5,"j":12,"s":0.82},{"i":6,"j":12,"s":0.72},{"i":7,"j":12,"s":0.72},{"i":8,"j":12,"s":0.8},{"i":9,"j":12,"s":0.87},{"i":10,"j":12,"s":0.91},{"i":11,"j":12,"s":0.93},{"i":12,"j":12,"s":0.94},{"i":13,"j":12,"s":0.95},{"i":14,"j":12,"s":0.97},{"i":15,"j":12,"s":0.97},{"i":16,"j":12,"s":0.97},{"i":17,"j":12,"s":0.97},{"i":18,"j":12,"s":0.97},{"i":19,"j":12,"s":0.97},{"i":20,"j":12,"s":0.97},{"i":21,"j":12,"s":0.97},{"i":22,"j":12,"s":0.97},{"i":23,"j":12,"s":0.97},
{"i":0,"j":13,"s":0.97},{"i":1,"j":13,"s":0.97},{"i":2,"j":13,"s":0.97},{"i":3,"j":13,"s":0.96},{"i":4,"j":13,"s":0.95},{"i":5,"j":13,"s":0.95},{"i":6,"j":13,"s":0.93},{"i":7,"j":13,"s":0.92},{"i":8,"j":13,"s":0.93},{"i":9,"j":13,"s":0.94},{"i":10,"j":13,"s":0.94},{"i":11,"j":13,"s":0.95},{"i":12,"j":13,"s":0.96},{"i":13,"j":13,"s":0.97},{"i":14,"j":13,"s":0.97},{"i":15,"j":13,"s":0.97},{"i":16,"j":13,"s":0.97},{"i":17,"j":13,"s":0.97},{"i":18,"j":13,"s":0.97},{"i":19,"j":13,"s":0.97},{"i":20,"j":13,"s":0.97},{"i":21,"j":13,"s":0.97},{"i":22,"j":13,"s":0.97},{"i":23,"j":13,"s":0.97},
{"i":0,"j":14,"s":0.98},{"i":1,"j":14,"s":0.98},{"i":2,"j":14,"s":0.98},{"i":3,"j":14,"s":0.98},{"i":4,"j":14,"s":0.97},{"i":5,"j":14,"s":0.97},{"i":6,"j":14,"s":0.97},{"i":7,"j":14,"s":0.95},{"i":8,"j":14,"s":0.95},{"i":9,"j":14,"s":0.95},{"i":10,"j":14,"s":0.95},{"i":11,"j":14,"s":0.95},{"i":12,"j":14,"s":0.95},{"i":13,"j":14,"s":0.96},{"i":14,"j":14,"s":0.96},{"i":15,"j":14,"s":0.97},{"i":16,"j":14,"s":0.97},{"i":17,"j":14,"s":0.97},{"i":18,"j":14,"s":0.97},{"i":19,"j":14,"s":0.97},{"i":20,"j":14,"s":0.97},{"i":21,"j":14,"s":0.96},{"i":22,"j":14,"s":0.96},{"i":23,"j":14,"s":0.96},
{"i":0,"j":15,"s":0.98},{"i":1,"j":15,"s":0.98},{"i":2,"j":15,"s":0.98},{"i":3,"j":15,"s":0.98},{"i":4,"j":15,"s":0.97},{"i":5,"j":15,"s":0.97},{"i":6,"j":15,"s":0.97},{"i":7,"j":15,"s":0.95},{"i":8,"j":15,"s":0.95},{"i":9,"j":15,"s":0.95},{"i":10,"j":15,"s":0.95},{"i":11,"j":15,"s":0.95},{"i":12,"j":15,"s":0.95},{"i":13,"j":15,"s":0.96},{"i":14,"j":15,"s":0.96},{"i":15,"j":15,"s":0.97},{"i":16,"j":15,"s":0.97},{"i":17,"j":15,"s":0.97},{"i":18,"j":15,"s":0.97},{"i":19,"j":15,"s":0.97},{"i":20,"j":15,"s":0.97},{"i":21,"j":15,"s":0.96},{"i":22,"j":15,"s":0.96},{"i":23,"j":15,"s":0.96},
{"i":0,"j":16,"s":0.98},{"i":1,"j":16,"s":0.98},{"i":2,"j":16,"s":0.98},{"i":3,"j":16,"s":0.98},{"i":4,"j":16,"s":0.97},{"i":5,"j":16,"s":0.97},{"i":6,"j":16,"s":0.97},{"i":7,"j":16,"s":0.95},{"i":8,"j":16,"s":0.95},{"i":9,"j":16,"s":0.95},{"i":10,"j":16,"s":0.95},{"i":11,"j":16,"s":0.95},{"i":12,"j":16,"s":0.95},{"i":13,"j":16,"s":0.96},{"i":14,"j":16,"s":0.96},{"i":15,"j":16,"s":0.97},{"i":16,"j":16,"s":0.97},{"i":17,"j":16,"s":0.97},{"i":18,"j":16,"s":0.97},{"i":19,"j":16,"s":0.97},{"i":20,"j":16,"s":0.97},{"i":21,"j":16,"s":0.96},{"i":22,"j":16,"s":0.96},{"i":23,"j":16,"s":0.96},
{"i":0,"j":17,"s":0.98},{"i":1,"j":17,"s":0.98},{"i":2,"j":17,"s":0.98},{"i":3,"j":17,"s":0.98},{"i":4,"j":17,"s":0.97},{"i":5,"j":17,"s":0.97},{"i":6,"j":17,"s":0.97},{"i":7,"j":17,"s":0.95},{"i":8,"j":17,"s":0.95},{"i":9,"j":17,"s":0.95},{"i":10,"j":17,"s":0.95},{"i":11,"j":17,"s":0.95},{"i":12,"j":17,"s":0.95},{"i":13,"j":17,"s":0.96},{"i":14,"j":17,"s":0.96},{"i":15,"j":17,"s":0.97},{"i":16,"j":17,"s":0.97},{"i":17,"j":17,"s":0.97},{"i":18,"j":17,"s":0.97},{"i":19,"j":17,"s":0.97},{"i":20,"j":17,"s":0.97},{"i":21,"j":17,"s":0.96},{"i":22,"j":17,"s":0.96},{"i":23,"j":17,"s":0.96},
{"i":0,"j":18,"s":0.98},{"i":1,"j":18,"s":0.98},{"i":2,"j":18,"s":0.98},{"i":3,"j":18,"s":0.98},{"i":4,"j":18,"s":0.97},{"i":5,"j":18,"s":0.97},{"i":6,"j":18,"s":0.97},{"i":7,"j":18,"s":0.95},{"i":8,"j":18,"s":0.95},{"i":9,"j":18,"s":0.95},{"i":10,"j":18,"s":0.95},{"i":11,"j":18,"s":0.95},{"i":12,"j":18,"s":0.95},{"i":13,"j":18,"s":0.96},{"i":14,"j":18,"s":0.96},{"i":15,"j":18,"s":0.97},{"i":16,"j":18,"s":0.97},{"i":17,"j":18,"s":0.97},{"i":18,"j":18,"s":0.97},{"i":19,"j":18,"s":0.97},{"i":20,"j":18,"s":0.97},{"i":21,"j":18,"s":0.96},{"i":22,"j":18,"s":0.96},{"i":23,"j":18,"s":0.96},
{"i":0,"j":19,"s":0.98},{"i":1,"j":19,"s":0.98},{"i":2,"j":19,"s":0.98},{"i":3,"j":19,"s":0.98},{"i":4,"j":19,"s":0.97},{"i":5,"j":19,"s":0.97},{"i":6,"j":19,"s":0.97},{"i":7,"j":19,"s":0.95},{"i":8,"j":19,"s":0.95},{"i":9,"j":19,"s":0.95},{"i":10,"j":19,"s":0.95},{"i":11,"j":19,"s":0.95},{"i":12,"j":19,"s":0.95},{"i":13,"j":19,"s":0.96},{"i":14,"j":19,"s":0.96},{"i":15,"j":19,"s":0.97},{"i":16,"j":19,"s":0.97},{"i":17,"j":19,"s":0.97},{"i":18,"j":19,"s":0.97},{"i":19,"j":19,"s":0.97},{"i":20,"j":19,"s":0.97},{"i":21,"j":19,"s":0.96},{"i":22,"j":19,"s":0.96},{"i":23,"j":19,"s":0.96}
  ]
},
"hconcat": [
  {
    "width": 343, "height": 293,
    "title": {"text": "𝑎)   before interpolation", "offset": 6, "dx": 2},
    "layer": [
      {
        "data": {"name": "gridA"},
        "mark": {"type": "rect"},
        "encoding": {
          "x": {"field": "i", "type": "ordinal", "axis": null, "scale": {"paddingInner": 0, "paddingOuter": 0}},
          "y": {"field": "j", "type": "ordinal", "axis": null, "scale": {"paddingInner": 0, "paddingOuter": 0}},
          "color": {"field": "s", "type": "quantitative", "scale": {"type": "linear", "domain": [0,0.1,0.2,0.3,0.4,0.5,0.6,0.7,0.8,0.9,1], "range": ["#2c1c6e","#2a2f9c","#1f5596","#236f93","#2a858f","#389a8b","#56b084","#80c37a","#b0d474","#dbe083","#f8ea9c"]}, "legend": {"type": "gradient", "direction": "vertical", "title": null, "values": [0,0.1,0.2,0.3,0.4,0.5,0.6,0.7,0.8,0.9,1], "format": ".1~f"}}
        }
      },
      {
        "layer": [
          {
            "data": {"name": "fieldA"},
            "mark": {"type": "rule", "stroke": "#3434e6", "strokeWidth": 1, "clip": true},
            "encoding": {
              "x": {"field": "x1", "type": "quantitative", "axis": null, "scale": {"domain": [0, 34.3], "nice": false, "zero": false}},
              "y": {"field": "y1", "type": "quantitative", "axis": null, "scale": {"domain": [0, 29.3], "nice": false, "zero": false, "reverse": true}},
              "x2": {"field": "x2"},
              "y2": {"field": "y2"}
            }
          },
          {
            "data": {"name": "defA"},
            "mark": {"type": "point", "shape": "circle", "filled": true, "size": 360, "fill": "#ec1c0c", "stroke": "#d41a0e", "strokeWidth": 1, "opacity": 1},
            "encoding": {
              "x": {"field": "x", "type": "quantitative"},
              "y": {"field": "y", "type": "quantitative"}
            }
          }
        ]
      }
    ],
    "resolve": {"scale": {"x": "independent", "y": "independent"}}
  },
  {
    "width": 84, "height": 293,
    "view": {"stroke": null},
    "data": {"name": "labelS"},
    "mark": {"type": "text", "font": "Liberation Serif", "fontStyle": "italic", "fontSize": 36, "align": "left", "baseline": "middle", "color": "#000"},
    "encoding": {
      "x": {"field": "x", "type": "quantitative", "axis": null, "scale": {"domain": [0, 1], "nice": false}},
      "y": {"field": "y", "type": "quantitative", "axis": null, "scale": {"domain": [0, 1], "nice": false, "reverse": true}},
      "text": {"field": "t"}
    }
  },
  {
    "width": 343, "height": 293,
    "title": {"text": "𝑏)   after interpolation", "offset": 11, "dx": 12},
    "layer": [
      {
        "data": {"name": "gridB"},
        "mark": {"type": "rect", "width": {"band": 1.08}, "height": {"band": 1.08}},
        "encoding": {
          "x": {"field": "i", "type": "ordinal", "axis": null, "scale": {"paddingInner": 0, "paddingOuter": 0}},
          "y": {"field": "j", "type": "ordinal", "axis": null, "scale": {"paddingInner": 0, "paddingOuter": 0}},
          "color": {"field": "s", "type": "quantitative", "scale": {"type": "linear", "domain": [0,0.1,0.2,0.3,0.4,0.5,0.6,0.7,0.8,0.9,1], "range": ["#2c1c6e","#2a2f9c","#1f5596","#236f93","#2a858f","#389a8b","#56b084","#80c37a","#b0d474","#dbe083","#f8ea9c"]}, "legend": {"type": "gradient", "direction": "vertical", "title": null, "values": [0,0.1,0.2,0.3,0.4,0.5,0.6,0.7,0.8,0.9,1], "format": ".1~f"}}
        }
      },
      {
        "layer": [
          {
            "data": {"name": "patchB"},
            "mark": {"type": "rect"},
            "encoding": {
              "x": {"field": "x0", "type": "quantitative", "axis": null, "scale": {"domain": [0, 34.3], "nice": false, "zero": false}},
              "x2": {"field": "x1"},
              "y": {"field": "y0", "type": "quantitative", "axis": null, "scale": {"domain": [0, 29.2], "nice": false, "zero": false, "reverse": true}},
              "y2": {"field": "y1"},
              "color": {"field": "s", "type": "quantitative"}
            }
          },
          {
            "data": {"name": "fieldB"},
            "mark": {"type": "rule", "stroke": "#3434e6", "strokeWidth": 1, "clip": true},
            "encoding": {
              "x": {"field": "x1", "type": "quantitative"},
              "y": {"field": "y1", "type": "quantitative"},
              "x2": {"field": "x2"},
              "y2": {"field": "y2"}
            }
          },
          {
            "data": {"name": "defB"},
            "mark": {"type": "point", "shape": "circle", "filled": true, "size": 340, "fill": "#ec1c0c", "stroke": "#d41a0e", "strokeWidth": 1, "opacity": 1},
            "encoding": {
              "x": {"field": "x", "type": "quantitative"},
              "y": {"field": "y", "type": "quantitative"}
            }
          }
        ]
      }
    ],
    "resolve": {"scale": {"x": "independent", "y": "independent"}}
  },
  {
    "width": 20, "height": 293,
    "view": {"stroke": null},
    "data": {"name": "labelS"},
    "mark": {"type": "text", "font": "Liberation Serif", "fontStyle": "italic", "fontSize": 36, "align": "left", "baseline": "middle", "color": "#000"},
    "encoding": {
      "x": {"field": "x", "type": "quantitative", "axis": null, "scale": {"domain": [0, 1], "nice": false}},
      "y": {"field": "y", "type": "quantitative", "axis": null, "scale": {"domain": [0, 1], "nice": false, "reverse": true}},
      "text": {"field": "t"}
    }
  }
],
"spacing": 12,
"resolve": {"scale": {"color": "independent"}, "legend": {"color": "independent"}}
}
